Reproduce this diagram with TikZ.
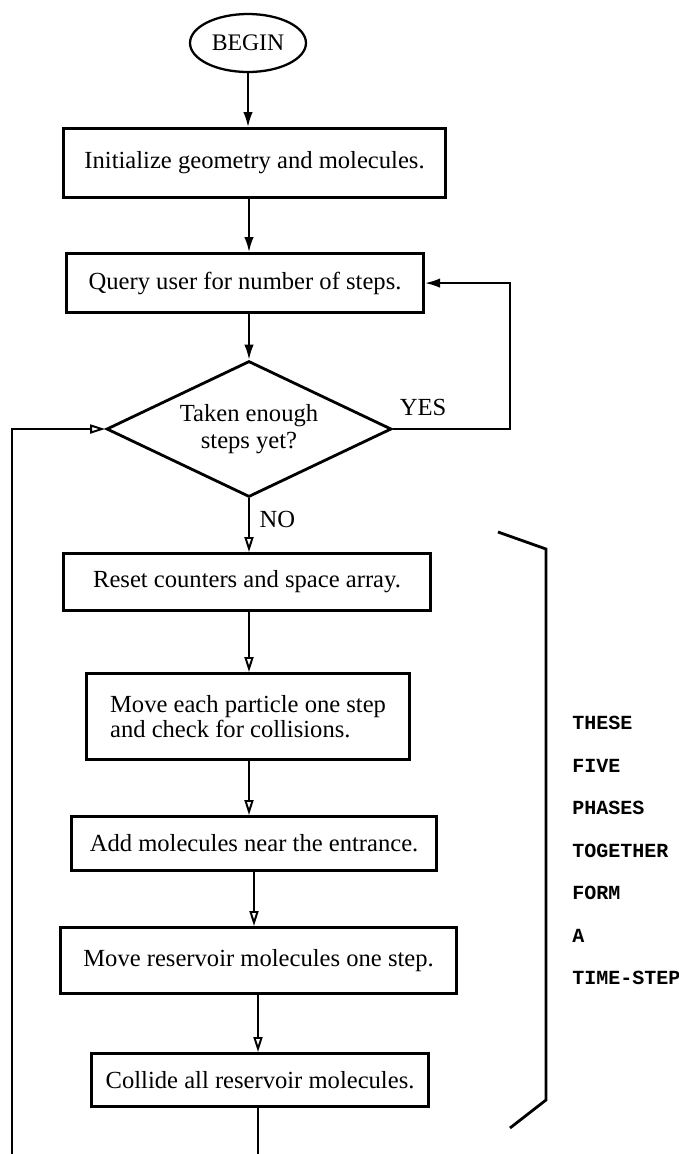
\documentclass[tikz,border=0pt]{standalone}
\usepackage{fontspec}
\setmainfont{Liberation Serif}
\setmonofont{Liberation Mono}
\usetikzlibrary{shapes.geometric, arrows.meta, positioning, calc}

\begin{document}
\begin{tikzpicture}[
  x=0.02cm, y=-0.02cm,
  box/.style={draw, line width=1.8pt, anchor=north west, inner sep=0pt, align=center, font=\fontsize{14}{14.5}\selectfont},
  terminal/.style={draw, ellipse, line width=1.3pt, minimum width=2.32cm, minimum height=1.16cm, inner sep=0pt, font=\fontsize{13.5}{16}\selectfont},
  decision/.style={draw, diamond, aspect=2.1, line width=1.6pt, minimum width=5.7cm, minimum height=2.72cm, inner sep=0pt, align=center, font=\fontsize{14}{15.5}\selectfont},
  arr/.style={-{Latex[length=0.3cm, width=0.19cm]}, line width=1.1pt},
  oarr/.style={-{Triangle[open, length=0.3cm, width=0.18cm]}, line width=1.1pt},
  lbl/.style={font=\fontsize{14}{17}\selectfont, inner sep=1pt},
  note/.style={anchor=west, inner sep=0pt, font=\ttfamily\bfseries\fontsize{11.4}{13}\selectfont}
]
\useasboundingbox (0,0) rectangle (679,1154);

\node[terminal] (begin) at (248,43) {BEGIN};
\node[box, minimum width=7.64cm, minimum height=1.38cm] (init) at (62,127) {Initialize geometry and molecules.};
\node[box, minimum width=7.14cm, minimum height=1.18cm] (query) at (65,252) {Query user for number of steps.};
\node[decision] (test) at (249,429) {Taken enough\\steps yet?};
\node[box, minimum width=7.34cm, minimum height=1.14cm] (reset) at (62,552) {Reset counters and space array.};
\node[box, align=left, minimum width=6.46cm, minimum height=1.72cm] (move) at (85,672) {Move each particle one step\\and check for collisions.};
\node[box, minimum width=7.3cm, minimum height=1.08cm] (add) at (70,815) {Add molecules near the entrance.};
\node[box, minimum width=7.92cm, minimum height=1.32cm] (resv) at (59,926) {Move reservoir molecules one step.};
\node[box, minimum width=6.74cm, minimum height=1.06cm] (coll) at (90,1052) {Collide all reservoir molecules.};

\coordinate (flow) at (249,0);
\coordinate (flowb) at (254,0);
\coordinate (flowc) at (258,0);
\coordinate (yesturn) at (510,429);
\coordinate (exit) at (258,1154);
\coordinate (loopin) at (12,1154);

\draw[arr] (begin.south) -- (init.north -| begin.south);
\draw[arr] (init.south -| flow) -- (query.north -| flow);
\draw[arr] (query.south -| flow) -- (test.north);
\draw[arr] (test.east) -- (yesturn) |- (query.east);
\node[lbl] (yes) at (423,407) {YES};
\draw[oarr] (test.south) -- node[lbl, right=0.16cm, pos=0.4] (no) {NO} (reset.north -| test.south);
\draw[oarr] (reset.south -| flow) -- (move.north -| flow);
\draw[oarr] (move.south -| flow) -- (add.north -| flow);
\draw[oarr] (add.south -| flowb) -- (resv.north -| flowb);
\draw[oarr] (resv.south -| flowc) -- (coll.north -| flowc);
\draw[line width=1.6pt] (coll.south -| flowc) -- (exit);
\draw[oarr] (loopin) |- (test.west);

% bracket round the five phases
\draw[line width=1.6pt] (498,532) -- (546,549) -- (546,1100) -- (510,1128);
\foreach \w [count=\i] in {THESE, FIVE, PHASES, TOGETHER, FORM, A, TIME-STEP}
  \node[note] (word\i) at (572, {723+42.5*(\i-1)}) {\w};

\end{tikzpicture}
\end{document}
